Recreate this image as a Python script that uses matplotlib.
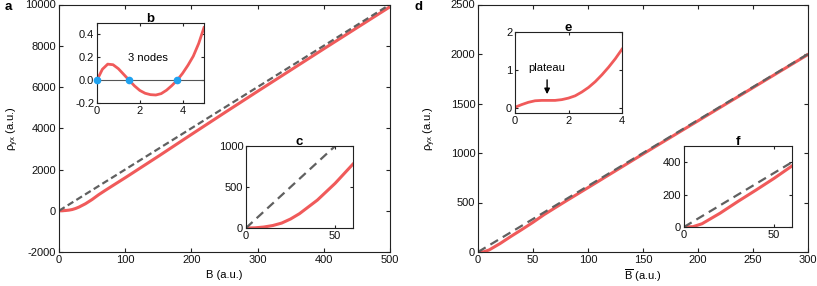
import matplotlib
matplotlib.use("Agg")
import matplotlib.pyplot as plt

plt.rcParams["font.family"] = ["Liberation Sans", "DejaVu Sans"]
plt.rcParams["mathtext.fontset"] = "custom"
plt.rcParams["mathtext.rm"] = "Liberation Sans"
plt.rcParams["mathtext.it"] = "Liberation Sans:italic"
plt.rcParams["font.size"] = 8
plt.rcParams["axes.unicode_minus"] = False

RED = "#F05A5A"
GRAY = "#606060"
BLUE = "#1FA2F0"
INK = "#222222"

# panel a / c : rho_yx vs B
a_B = [0, 5, 10, 15, 20, 25, 30, 40, 50, 60, 70, 80, 100, 150, 200, 250, 300, 350, 400, 450, 500]
a_rho = [0, 2, 12, 30, 60, 110, 175, 340, 545, 780, 990, 1195, 1600, 2640, 3700, 4750, 5790, 6820, 7850, 8870, 9890]
a_classic_B = [0, 500]
a_classic_rho = [0, 10000]

# panel b : oscillating part with 3 nodes
b_x = [0, 0.25, 0.5, 0.75, 1, 1.25, 1.5, 1.75, 2, 2.25, 2.5, 2.75, 3, 3.25, 3.5, 3.75, 4, 4.25, 4.5, 4.75, 5]
b_y = [0, 0.095, 0.14, 0.135, 0.1, 0.05, 0.0, -0.05, -0.09, -0.115, -0.127, -0.13, -0.118, -0.088, -0.047, 0.0, 0.06, 0.13, 0.21, 0.32, 0.46]
b_nodes_x = [0, 1.5, 3.75]
b_nodes_y = [0, 0, 0]

# panel d / f : rho_yx vs B-bar
d_B = [0, 5, 10, 20, 30, 40, 50, 60, 80, 100, 150, 200, 250, 300]
d_rho = [0, 2, 20, 85, 158, 228, 300, 377, 515, 650, 990, 1325, 1660, 1995]
d_classic_B = [0, 300]
d_classic_rho = [0, 2000]

# panel e : plateau
e_x = [0, 0.25, 0.5, 0.75, 1, 1.25, 1.5, 1.75, 2, 2.25, 2.5, 2.75, 3, 3.25, 3.5, 3.75, 4]
e_y = [0.03, 0.1, 0.16, 0.2, 0.21, 0.21, 0.21, 0.23, 0.27, 0.33, 0.43, 0.55, 0.7, 0.88, 1.08, 1.3, 1.55]

W, H = 817, 286
fig = plt.figure(figsize=(W / 100, H / 100), dpi=100)


def px_axes(left, right, top, bottom):
    return fig.add_axes([left / W, 1 - bottom / H, (right - left) / W, (bottom - top) / H])


def style(ax, main=True):
    for s in ax.spines.values():
        s.set_color(INK)
        s.set_linewidth(0.8)
    ax.tick_params(direction="in", top=True, right=True, length=3 if main else 2,
                   width=0.8, color=INK, labelsize=8, labelcolor="#111111", pad=2)


# ---- panel a
ax_a = px_axes(59, 390, 4.5, 252)
ax_a.plot(a_B, a_rho, color=RED, lw=2.2, solid_capstyle="butt")
ax_a.plot(a_classic_B, a_classic_rho, color=GRAY, lw=1.6, dashes=(3, 1.6))
ax_a.set_xlim(0, 500)
ax_a.set_ylim(-2000, 10000)
ax_a.set_xticks(range(0, 501, 100))
ax_a.set_yticks(range(-2000, 10001, 2000))
ax_a.set_xlabel("B (a.u.)", labelpad=4)
ax_a.set_ylabel(r"$\mathregular{\rho_{yx}}$ (a.u.)", labelpad=3)
style(ax_a)
fig.text(5 / W, 1 - 7 / H, "a", fontsize=9.5, fontweight="bold", va="center", ha="left")

# ---- inset b
ax_b = px_axes(97, 204, 23, 103)
ax_b.axhline(0, color="#555555", lw=0.8)
ax_b.plot(b_x, b_y, color=RED, lw=2.0)
ax_b.plot(b_nodes_x, b_nodes_y, "o", color=BLUE, ms=4.5, clip_on=False, zorder=5)
ax_b.text(2.4, 0.19, "3 nodes", ha="center", va="center", fontsize=8)
ax_b.set_xlim(0, 5)
ax_b.set_ylim(-0.2, 0.5)
ax_b.set_xticks([0, 2, 4])
ax_b.set_yticks([-0.2, 0.0, 0.2, 0.4])
ax_b.set_yticklabels(["-0.2", "0.0", "0.2", "0.4"])
ax_b.set_title("b", fontsize=9.5, fontweight="bold", pad=1)
style(ax_b, main=False)

# ---- inset c
ax_c = px_axes(246, 353, 146, 228)
ax_c.plot(a_B, a_rho, color=RED, lw=2.2)
ax_c.plot(a_classic_B, a_classic_rho, color=GRAY, lw=1.6, dashes=(4, 2.5))
ax_c.set_xlim(0, 60)
ax_c.set_ylim(0, 1000)
ax_c.set_xticks([0, 50])
ax_c.set_yticks([0, 500, 1000])
ax_c.set_title("c", fontsize=9.5, fontweight="bold", pad=1)
style(ax_c, main=False)

# ---- panel d
ax_d = px_axes(478, 808, 4.5, 252)
ax_d.plot(d_B, d_rho, color=RED, lw=2.2)
ax_d.plot(d_classic_B, d_classic_rho, color=GRAY, lw=1.6, dashes=(4, 2.5))
ax_d.set_xlim(0, 300)
ax_d.set_ylim(0, 2500)
ax_d.set_xticks(range(0, 301, 50))
ax_d.set_yticks(range(0, 2501, 500))
ax_d.set_xlabel(r"$\mathregular{\overline{B}}$ (a.u.)", labelpad=2)
ax_d.set_ylabel(r"$\mathregular{\rho_{yx}}$ (a.u.)", labelpad=9)
style(ax_d)
fig.text(415 / W, 1 - 7 / H, "d", fontsize=9.5, fontweight="bold", va="center", ha="left")

# ---- inset e
ax_e = px_axes(515, 622, 32, 113)
ax_e.plot(e_x, e_y, color=RED, lw=2.0)
ax_e.annotate("", xy=(1.2, 0.3), xytext=(1.2, 0.82),
              arrowprops=dict(arrowstyle="-|>", color="black", lw=1.0, mutation_scale=8))
ax_e.text(1.2, 1.07, "plateau", ha="center", va="center", fontsize=8)
ax_e.set_xlim(0, 4)
ax_e.set_ylim(-0.12, 2)
ax_e.set_xticks([0, 2, 4])
ax_e.set_yticks([0, 1, 2])
ax_e.set_title("e", fontsize=9.5, fontweight="bold", pad=1)
style(ax_e, main=False)

# ---- inset f
ax_f = px_axes(684, 792, 146, 227)
ax_f.plot(d_B, d_rho, color=RED, lw=2.2)
ax_f.plot(d_classic_B, d_classic_rho, color=GRAY, lw=1.6, dashes=(4, 2.5))
ax_f.set_xlim(0, 60)
ax_f.set_ylim(0, 500)
ax_f.set_xticks([0, 50])
ax_f.set_yticks([0, 200, 400])
ax_f.set_title("f", fontsize=9.5, fontweight="bold", pad=1)
style(ax_f, main=False)

fig.savefig("out.png", dpi=100)
